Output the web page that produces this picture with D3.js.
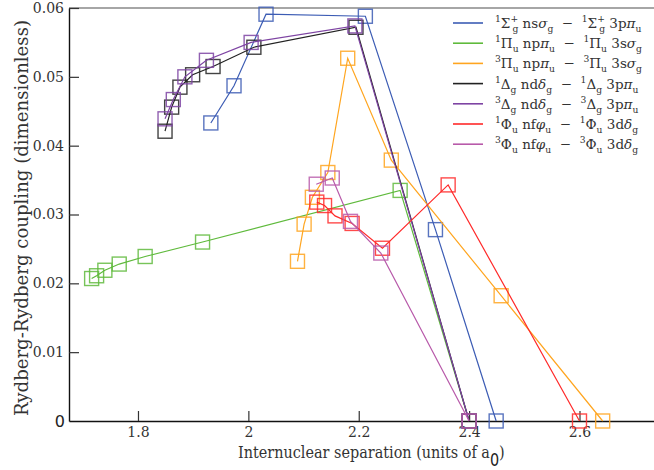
<!DOCTYPE html>
<meta charset="utf-8">
<style>
  body { margin: 0; background: #fff; }
</style>
<body>
<script src="https://d3js.org/d3.v7.min.js"></script>
<script>

  // series data
  let sigmaX = [1.932, 1.974, 2.032, 2.212, 2.339, 2.449],
    sigmaY = [0.0433, 0.0487, 0.0591, 0.0588, 0.0278, 0];
  let pi1X = [1.716, 1.725, 1.740, 1.766, 1.813, 1.917, 2.275, 2.4],
    pi1Y = [0.0207, 0.0211, 0.0219, 0.0228, 0.0239, 0.0260, 0.0335, 0];
  let pi3X = [2.089, 2.101, 2.116, 2.144, 2.180, 2.259, 2.458, 2.642],
    pi3Y = [0.0232, 0.0286, 0.0325, 0.0361, 0.0527, 0.0379, 0.0182, 0];
  let delta1X = [1.849, 1.861, 1.876, 1.899, 1.936, 2.010, 2.195, 2.4],
    delta1Y = [0.0421, 0.0456, 0.0485, 0.0503, 0.0515, 0.0543, 0.0572, 0];
  let delta3X = [1.849, 1.864, 1.885, 1.924, 2.005, 2.193, 2.4],
    delta3Y = [0.0439, 0.0467, 0.0500, 0.0524, 0.0550, 0.0574, 0];
  let phi1X = [2.124, 2.138, 2.157, 2.188, 2.243, 2.362, 2.6],
    phi1Y = [0.0318, 0.0313, 0.0298, 0.0287, 0.0251, 0.0343, 0];
  let phi3X = [2.123, 2.152, 2.185, 2.240, 2.4],
    phi3Y = [0.0344, 0.0353, 0.0290, 0.0244, 0];

  let legendLabels = [
    "^1Σ^+_g nsσ_g  −  ^1Σ^+_g 3pπ_u",
    "^1Π_u npπ_u  −  ^1Π_u 3sσ_g",
    "^3Π_u npπ_u  −  ^3Π_u 3sσ_g",
    "^1Δ_g ndδ_g  −  ^1Δ_g 3pπ_u",
    "^3Δ_g ndδ_g  −  ^3Δ_g 3pπ_u",
    "^1Φ_u nfφ_u  −  ^1Φ_u 3dδ_g",
    "^3Φ_u nfφ_u  −  ^3Φ_u 3dδ_g"
  ];
  let colors = ["#3c5cb4", "#5fba3c", "#ffa51f", "#222222", "#7e44a3", "#ff2a2a", "#b85aaa"];

  let xMajor = [1.8, 2, 2.2, 2.4, 2.6],
    xMinor = [1.7, 1.9, 2.1, 2.3, 2.5, 2.7],
    yMajor = [0.01, 0.02, 0.03, 0.04, 0.05, 0.06],
    yMinor = [0.005, 0.015, 0.025, 0.035, 0.045, 0.055];

  let series = [
    [sigmaX, sigmaY], [pi1X, pi1Y], [pi3X, pi3Y], [delta1X, delta1Y],
    [delta3X, delta3Y], [phi1X, phi1Y], [phi3X, phi3Y]
  ].map(function(s, i) {
    return {
      color: colors[i],
      label: legendLabels[i],
      pts: s[0].map(function(x, j) { return {x: x, y: s[1][j]}; })
    };
  });

  let serif = "'DejaVu Serif', serif",
    sans = "'DejaVu Sans', sans-serif",
    ink = "#333";

  let width = 654,
    height = 470;

  let x = d3.scaleLinear().domain([1.675, 2.735]).range([69, 654]),
    y = d3.scaleLinear().domain([0, 0.06]).range([421, 8]);

  let svg = d3.select("body").append("svg")
    .attr("width", width)
    .attr("height", height);

  // top frame line (grey)
  svg.append("line")
    .attr("x1", x.range()[0]).attr("x2", x.range()[1])
    .attr("y1", y(0.06)).attr("y2", y(0.06))
    .attr("stroke", "#888").attr("stroke-width", 1.6);

  // axes
  let fmt = function(d) { return String(+d.toFixed(2)); };

  let gx = svg.append("g").attr("transform", "translate(0," + y(0) + ")");
  gx.call(d3.axisBottom(x).tickValues(xMinor).tickSize(-5).tickSizeOuter(0).tickFormat(""));
  gx.call(d3.axisBottom(x).tickValues(xMajor).tickSize(-10).tickSizeOuter(0).tickPadding(6).tickFormat(fmt));

  let gy = svg.append("g").attr("transform", "translate(" + x.range()[0] + ",0)");
  gy.call(d3.axisLeft(y).tickValues(yMinor).tickSize(-5).tickSizeOuter(0).tickFormat(""));
  gy.call(d3.axisLeft(y).tickValues(yMajor).tickSize(-10).tickSizeOuter(0).tickPadding(5).tickFormat(fmt));

  svg.selectAll(".domain").attr("stroke", "#111").attr("stroke-width", 1.4);
  svg.selectAll(".tick line").attr("stroke", "#333").attr("stroke-width", 1.2);
  svg.selectAll(".tick text")
    .style("font-family", serif)
    .attr("font-size", 14)
    .attr("fill", ink);

  // the origin label is set in a sans font
  svg.append("text")
    .style("font-family", sans)
    .attr("x", x.range()[0] - 4).attr("y", y(0) + 6)
    .attr("text-anchor", "end")
    .attr("font-size", 16)
    .attr("fill", "#222")
    .text("0");

  // axis titles
  let xt = svg.append("text")
    .style("font-family", serif)
    .attr("font-size", 17)
    .attr("fill", ink);
  xt.append("tspan").text("Internuclear separation (units of a");
  xt.append("tspan").attr("dy", 8).style("font-family", sans).attr("fill", "#222").text("0");
  xt.append("tspan").attr("dy", -8).text(")");
  let xtLen = xt.node().getComputedTextLength();
  xt.attr("transform", "translate(238,458) scale(" + (267 / xtLen) + ",1)");

  svg.append("text")
    .style("font-family", serif)
    .attr("transform", "translate(28,218) rotate(-90)")
    .attr("text-anchor", "middle")
    .attr("font-size", 19)
    .attr("textLength", 396)
    .attr("lengthAdjust", "spacingAndGlyphs")
    .attr("fill", ink)
    .text("Rydberg-Rydberg coupling (dimensionless)");

  // lines and markers
  let line = d3.line().x(d => x(d.x)).y(d => y(d.y));

  let g = svg.selectAll(".series")
    .data(series)
    .enter().append("g");

  g.append("path")
    .attr("d", d => line(d.pts))
    .attr("fill", "none")
    .attr("stroke", d => d.color)
    .attr("stroke-width", 1.2);

  g.each(function(s) {
    d3.select(this).selectAll("rect")
      .data(s.pts)
      .enter().append("rect")
      .attr("x", d => x(d.x) - 7)
      .attr("y", d => y(d.y) - 7)
      .attr("width", 14)
      .attr("height", 14)
      .attr("fill", "none")
      .attr("stroke", s.color)
      .attr("stroke-opacity", 0.85)
      .attr("stroke-width", 1.4);
  });

  // legend
  function richText(t, str, size) {
    let cur = 0, lastSupW = 0;
    let small = size * 0.68;
    let i = 0, buf = "";
    function flush() {
      if (!buf) return;
      buf.split(/([σπδφ])/).forEach(function(p) {
        if (!p) return;
        let ts = t.append("tspan").attr("dy", -cur).attr("font-size", size).text(p);
        cur = 0;
        if ("σπδφ".indexOf(p) >= 0) ts.style("font-style", "italic");
      });
      buf = "";
    }
    while (i < str.length) {
      let c = str[i];
      if (c === "^" || c === "_") {
        flush();
        let target = c === "^" ? -6 : 4;
        let ts = t.append("tspan").attr("dy", target - cur).attr("font-size", small).text(str[i + 1]);
        if (c === "_" && lastSupW) ts.attr("dx", -lastSupW);
        lastSupW = (c === "^" && str[i - 1] !== " " && i > 0) ? small * 0.62 : 0;
        cur = target;
        i += 2;
      } else {
        lastSupW = 0;
        buf += c;
        i++;
      }
    }
    flush();
  }

  let lg = svg.append("g");
  lg.append("rect")
    .attr("x", 446).attr("y", 11).attr("width", 206).attr("height", 146)
    .attr("fill", "#fff");

  series.forEach(function(s, i) {
    let yy = 23 + i * 20.2;
    lg.append("line")
      .attr("x1", 453).attr("x2", 483)
      .attr("y1", yy).attr("y2", yy)
      .attr("stroke", s.color).attr("stroke-width", 1.6);
    let t = lg.append("text")
      .style("font-family", serif)
      .attr("x", 495).attr("y", yy + 5)
      .attr("fill", ink)
      .style("white-space", "pre");
    richText(t, s.label, 13.5);
  });

</script>
